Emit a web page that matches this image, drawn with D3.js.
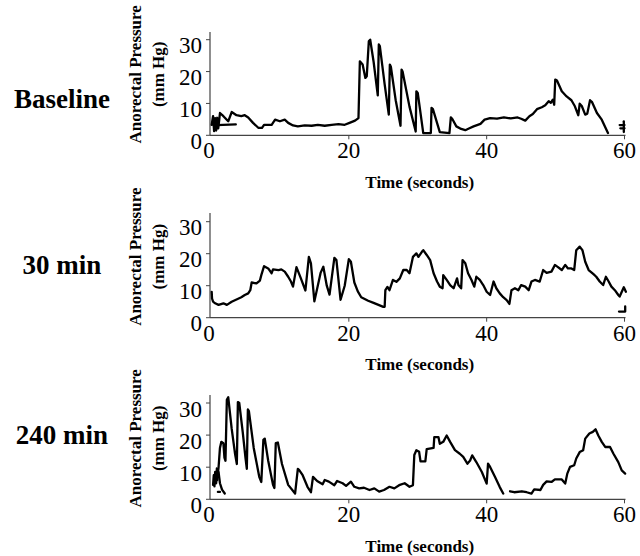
<!DOCTYPE html>
<html>
<head>
<meta charset="utf-8">
<script src="https://cdn.jsdelivr.net/npm/d3@7"></script>
<style>
  html, body { margin: 0; padding: 0; background: #fff; }
  svg { display: block; }
  text { font-family: "Liberation Serif", "Times New Roman", serif; fill: #000; }
</style>
</head>
<body>
<svg id="chart" width="640" height="556"></svg>
<script>
// ---------------- data ----------------
const panelNames = ["Baseline", "30 min", "240 min"];
const xTicks = [0, 20, 40, 60];
const yTicks = [0, 10, 20, 30];
const xLabel = "Time (seconds)";
const yLabelLine1 = "Anorectal Pressure";
const yLabelLine2 = "(mm Hg)";

// Baseline trace: [time s, pressure mmHg]
const baselineTrace = [
  [0.1,3.3],[0.3,6.0],[0.45,1.3],[0.6,5.4],[0.75,1.5],[0.9,5.5],[1.05,2.2],[1.2,4.9],[1.3,7.0],
  [1.8,6.0],[2.5,4.4],[3.0,7.3],[3.7,6.3],[4.4,6.0],[4.9,6.3],[5.4,5.6],[6.1,3.9],[6.9,2.3],
  [7.4,2.3],[7.7,3.3],[8.8,3.3],[9.3,4.9],[10.0,4.4],[10.7,4.9],[11.2,3.9],[11.9,3.1],[12.6,2.8],
  [13.6,3.1],[14.6,3.0],[15.5,3.3],[16.5,3.0],[17.5,3.3],[18.5,3.5],[19.4,3.3],[20.1,3.9],
  [20.9,4.6],[21.4,5.4],[21.6,23.2],[22.0,22.2],[22.4,18.0],[22.6,18.5],[22.9,29.5],[23.1,30.0],
  [23.6,23.0],[24.2,12.5],[24.35,28.5],[24.5,28.0],[25.2,16.0],[25.8,6.5],[25.95,22.2],[26.1,21.5],
  [26.8,11.0],[27.5,3.0],[27.65,20.6],[27.8,20.0],[28.8,9.0],[29.7,1.2],[29.8,13.8],[30.0,13.3],
  [30.8,0.7],[31.9,0.7],[32.0,8.6],[32.2,8.2],[33.2,1.0],[34.6,0.7],[34.8,5.6],[35.0,5.2],
  [35.6,2.8],[36.3,2.0],[36.9,1.6],[37.5,2.2],[38.1,2.8],[39.1,3.6],[39.7,4.9],[40.5,5.4],
  [41.5,5.2],[42.5,5.6],[43.5,5.3],[44.5,5.6],[45.0,5.2],[45.6,4.6],[46.2,6.0],[46.7,6.7],
  [47.3,8.2],[48.0,8.8],[48.5,9.4],[49.0,10.7],[49.3,10.2],[49.6,11.2],[49.8,9.6],[49.95,17.5],
  [50.2,17.2],[50.9,13.8],[51.6,12.2],[52.3,11.0],[52.8,9.1],[53.3,6.3],[53.5,9.9],[53.8,9.2],
  [54.3,6.5],[54.6,6.8],[55.0,11.0],[55.3,10.4],[56.0,7.0],[56.7,4.9],[57.6,0.7]
];
const baselineFragments = [
  [[0.8,3.2],[3.6,3.4]],
  [[59.3,3.2],[60.0,3.2]],
  [[59.9,4.4],[59.9,1.0]],
  [[59.4,2.2],[60.0,2.2]]
];

// 30 min trace
const min30Trace = [
  [0.1,8.1],[0.15,6.0],[0.3,5.0],[0.6,4.5],[1.1,4.0],[1.8,4.5],[2.3,4.0],[3.0,5.0],[3.7,5.7],
  [4.4,6.4],[4.9,7.1],[5.4,7.6],[5.7,8.6],[5.9,11.0],[6.6,10.7],[7.1,11.6],[7.3,13.3],[7.7,16.1],
  [8.3,15.4],[8.8,13.9],[9.0,15.1],[9.8,14.9],[10.2,15.1],[10.7,14.4],[11.2,12.8],[11.6,11.3],
  [11.9,9.7],[12.4,15.8],[13.0,12.5],[13.7,8.5],[14.2,19.0],[14.5,17.0],[15.0,5.1],[15.9,14.0],
  [16.3,15.9],[16.8,10.0],[17.2,7.2],[17.9,18.7],[18.2,18.0],[18.8,5.6],[19.4,10.0],[20.0,18.3],
  [20.3,17.5],[20.8,11.0],[21.3,8.2],[21.8,6.4],[22.8,5.3],[23.5,4.7],[24.3,4.0],[25.0,3.4],
  [25.2,3.4],[25.3,8.6],[25.6,9.6],[25.9,8.6],[26.4,11.8],[26.9,11.2],[27.4,12.3],[27.9,14.9],
  [28.4,14.9],[28.8,13.9],[29.3,19.0],[29.8,20.1],[30.1,19.0],[30.6,20.6],[30.8,21.1],[31.3,19.6],
  [31.8,18.0],[32.3,13.9],[32.8,11.3],[33.2,9.7],[33.6,9.2],[33.7,13.3],[34.2,11.8],[34.7,10.2],
  [35.2,9.2],[35.7,12.3],[35.9,10.2],[36.3,9.2],[36.5,18.0],[36.9,17.0],[37.3,13.9],[37.8,11.8],
  [38.2,9.7],[38.5,12.8],[39.0,11.8],[39.5,10.2],[40.0,8.1],[40.5,7.1],[41.0,11.3],[41.4,9.2],
  [41.9,7.6],[42.4,6.4],[42.9,5.5],[43.3,4.3],[43.6,8.6],[44.1,9.2],[44.6,8.6],[45.0,10.2],
  [45.6,9.7],[46.1,8.6],[46.5,11.3],[47.0,11.8],[47.7,11.3],[48.2,14.9],[48.7,14.0],[49.4,14.4],
  [49.9,16.5],[50.3,15.9],[50.9,14.9],[51.4,16.5],[51.8,15.4],[52.3,15.4],[52.7,14.9],[53.0,21.1],
  [53.5,22.2],[53.9,21.1],[54.3,17.5],[54.8,14.9],[55.5,13.6],[55.9,12.8],[56.4,11.3],[56.9,10.2],
  [57.3,12.8],[57.7,11.3],[58.1,9.7],[58.6,8.6],[59.1,7.1],[59.3,6.6],[59.9,9.5],[60.2,8.1]
];
const min30Fragments = [
  [[59.2,1.9],[60.1,1.9],[60.1,3.5]]
];

// 240 min trace (two segments, gap near 43 s)
const min240TraceA = [
  [0.9,6.0],[1.1,10.0],[1.3,16.0],[1.5,17.9],[1.8,17.5],[1.95,13.0],[2.1,12.0],[2.3,31.0],
  [2.5,31.8],[3.0,22.0],[3.5,14.0],[3.75,11.0],[3.9,30.3],[4.1,30.0],[4.6,21.0],[5.0,13.0],
  [5.2,9.5],[5.35,28.0],[5.5,27.5],[6.2,16.0],[7.0,7.0],[7.3,5.4],[7.6,18.5],[7.8,18.9],
  [8.3,12.0],[9.0,4.5],[9.2,3.5],[9.4,17.5],[9.7,17.7],[10.3,11.0],[11.2,4.5],[12.2,1.8],
  [12.6,9.5],[12.8,9.1],[13.3,7.5],[14.0,3.9],[14.5,2.2],[14.8,7.0],[15.4,5.7],[16.2,4.7],
  [16.5,6.0],[17.1,5.5],[17.9,4.4],[18.3,5.7],[19.1,5.0],[19.6,4.2],[20.3,5.5],[20.8,3.9],
  [21.5,3.4],[22.2,3.6],[23.0,2.9],[23.7,3.4],[24.4,2.4],[25.1,2.9],[25.9,3.9],[26.6,3.4],
  [27.3,4.4],[28.1,5.0],[28.8,3.9],[29.3,4.4],[29.5,13.8],[29.8,15.3],[30.2,14.8],[30.4,11.8],
  [31.1,11.8],[31.3,15.6],[32.3,16.0],[32.4,19.4],[33.0,19.4],[33.2,17.3],[33.7,17.9],[34.2,19.9],
  [34.7,17.9],[35.4,15.3],[36.1,14.2],[36.6,13.2],[37.2,11.1],[37.6,12.1],[37.9,13.7],[38.5,11.6],
  [39.3,8.5],[40.0,4.9],[40.2,11.1],[40.5,10.1],[41.2,7.0],[41.9,3.8],[42.4,1.8]
];
const min240TraceB = [
  [43.4,2.5],[44.0,2.2],[45.1,2.5],[45.8,2.2],[46.5,1.8],[46.9,3.1],[47.8,2.9],[48.2,4.5],
  [48.7,5.6],[49.4,5.4],[49.9,6.2],[50.9,6.2],[51.4,4.9],[51.7,8.0],[52.1,10.1],[52.7,10.6],
  [53.0,12.7],[53.5,14.7],[54.0,15.3],[54.3,18.9],[54.9,20.5],[55.4,21.0],[55.8,21.8],[56.2,19.9],
  [56.7,17.9],[57.2,16.3],[57.9,16.3],[58.4,14.2],[59.1,11.6],[59.6,9.0],[60.1,8.0]
];
const min240Fragments = [
  [[0.3,4.5],[0.4,7.5],[0.5,4.0],[0.6,8.5],[0.75,5.0],[0.85,9.6],[0.95,7.0],[1.1,8.5],[1.3,5.0],[1.6,3.0],[2.0,1.8]],
  [[1.0,2.3],[1.3,2.3]]
];

const panelTraces = [
  [baselineTrace, ...baselineFragments],
  [min30Trace, ...min30Fragments],
  [min240TraceA, min240TraceB, ...min240Fragments]
];

// ---------------- layout ----------------
const layout = [
  { y0: 135.3, y30: 39.7, top: 32, nameY: 108 },
  { y0: 317.7, y30: 221.7, top: 213, nameY: 274 },
  { y0: 499.3, y30: 403.0, top: 395, nameY: 444 }
];
const nameCenterX = 62;
const xLeft = 211, xRight = 624.5, axisX = 210;

const svg = d3.select("#chart");
svg.append("rect").attr("width", 640).attr("height", 556).attr("fill", "#fff");

const x = d3.scaleLinear().domain([0, 60]).range([xLeft, xRight]);

layout.forEach((L, i) => {
  const y = d3.scaleLinear().domain([0, 30]).range([L.y0, L.y30]);
  const g = svg.append("g");

  // axes lines
  g.append("line").attr("x1", axisX).attr("x2", axisX).attr("y1", L.top).attr("y2", L.y0)
    .attr("stroke", "#444").attr("stroke-width", 1.2);
  g.append("line").attr("x1", axisX).attr("x2", x(60) + 1).attr("y1", L.y0).attr("y2", L.y0)
    .attr("stroke", "#444").attr("stroke-width", 1.2);

  // y ticks
  yTicks.forEach(v => {
    g.append("line").attr("x1", axisX - 4).attr("x2", axisX).attr("y1", y(v)).attr("y2", y(v))
      .attr("stroke", "#444").attr("stroke-width", 1);
    g.append("text").attr("x", 202).attr("y", y(v) + 13.6).attr("text-anchor", "end")
      .attr("font-size", 23).text(v);
  });
  // x ticks
  xTicks.forEach(v => {
    if (v > 0) {
      g.append("line").attr("x1", x(v)).attr("x2", x(v)).attr("y1", L.y0).attr("y2", L.y0 + 4)
        .attr("stroke", "#444").attr("stroke-width", 1);
    }
    g.append("text").attr("x", x(v) - (v === 0 ? 2 : 0)).attr("y", L.y0 + 22.8).attr("text-anchor", "middle")
      .attr("font-size", 23).text(v);
  });

  // x label
  g.append("text").attr("x", (x(0) + x(60)) / 2 + 2).attr("y", L.y0 + 52.5).attr("text-anchor", "middle")
    .attr("font-size", 17).attr("font-weight", "bold").text(xLabel);

  // y label (two lines, rotated)
  const cy = L.y0 - 61;
  g.append("text").attr("transform", `translate(140.5,${cy}) rotate(-90)`).attr("text-anchor", "middle")
    .attr("font-size", 17).attr("font-weight", "bold").text(yLabelLine1);
  g.append("text").attr("transform", `translate(163.5,${cy}) rotate(-90)`).attr("text-anchor", "middle")
    .attr("font-size", 17).attr("font-weight", "bold").text(yLabelLine2);

  // panel name
  g.append("text").attr("x", nameCenterX).attr("y", L.nameY).attr("text-anchor", "middle")
    .attr("font-size", 27).attr("font-weight", "bold").text(panelNames[i]);

  // traces
  const line = d3.line().x(d => x(d[0])).y(d => y(d[1]));
  panelTraces[i].forEach(tr => {
    g.append("path").attr("d", line(tr)).attr("fill", "none").attr("stroke", "#000")
      .attr("stroke-width", 2.3).attr("stroke-linejoin", "round").attr("stroke-linecap", "round");
  });
});
</script>
</body>
</html>
